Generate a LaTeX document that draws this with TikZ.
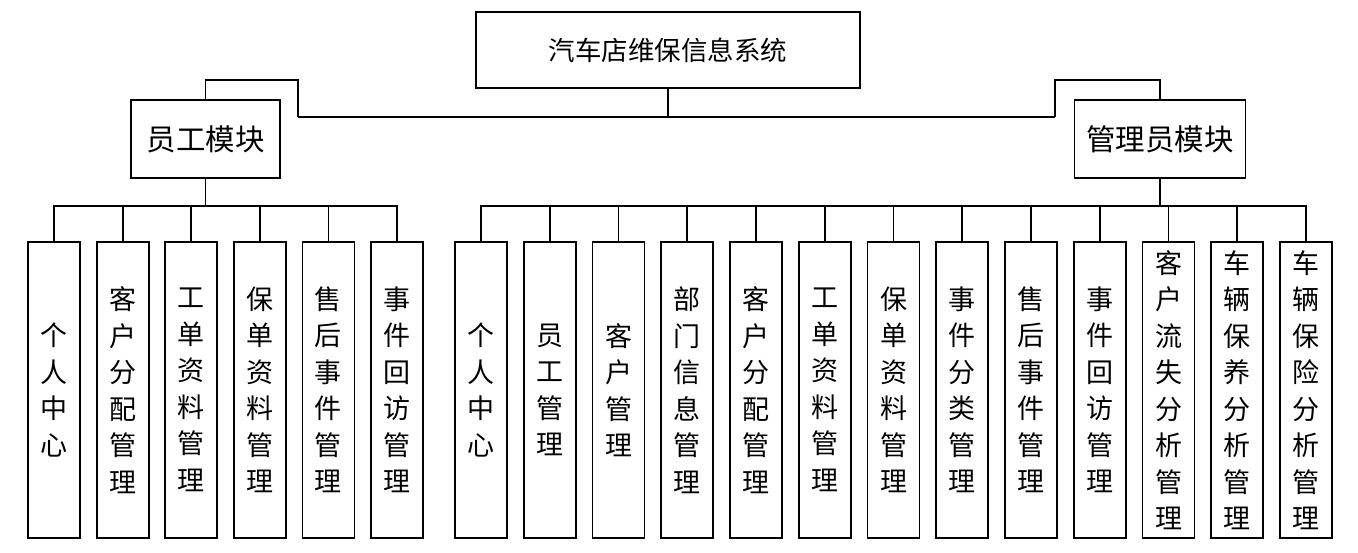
\documentclass[tikz,border=0pt]{standalone}
\usepackage{fontspec}
\newfontfamily\cjk{Noto Sans CJK SC}
\tikzset{
  every path/.style={line width=1.8pt},
  box/.style={draw, line width=1.8pt, inner sep=0pt, align=center},
  leaf/.style={box, minimum width=52pt, minimum height=296pt, font=\cjk\fontsize{27}{36.5}\selectfont},
  modbox/.style={box, minimum height=78pt, font=\cjk\fontsize{29.5}{32}\selectfont},
  conn/.style={draw, line width=1.8pt}
}
\begin{document}
\begin{tikzpicture}[x=1pt,y=-1pt]
\useasboundingbox (0,0) rectangle (1358,553);
% top
\node[modbox, minimum width=384pt, minimum height=76pt, font=\cjk\fontsize{26.5}{30}\selectfont] (sys) at (668,50) {汽车店维保信息系统};
\node[modbox, minimum width=149pt] (emp) at (205.5,139) {员工模块};
\node[modbox, minimum width=171pt] (adm) at (1160,139) {管理员模块};
\coordinate (mid) at (668,117);
\coordinate (kl) at (298,117);
\coordinate (kr) at (1055,117);
\coordinate (kl2) at (298,80);
\coordinate (kr2) at (1055,80);
\draw (sys.south) -- (mid);
\draw (kl) -- (kr);
\draw (kl) -- (kl2) -| (emp.north);
\draw (kr) -- (kr2) -| (adm.north);
\coordinate (bus) at (0,206);
% employee leaves
\foreach \i/\t in {0/{个\\人\\中\\心},1/{客\\户\\分\\配\\管\\理},2/{工\\单\\资\\料\\管\\理},3/{保\\单\\资\\料\\管\\理},4/{售\\后\\事\\件\\管\\理},5/{事\\件\\回\\访\\管\\理}}{
  \node[leaf] (e\i) at ({54+68.6*\i},390) {\t};
  \draw (emp.south) -- (emp.south |- bus) -| (e\i.north);
}
% admin leaves
\foreach \i/\t in {0/{个\\人\\中\\心},1/{员\\工\\管\\理},2/{客\\户\\管\\理},3/{部\\门\\信\\息\\管\\理},4/{客\\户\\分\\配\\管\\理},5/{工\\单\\资\\料\\管\\理},6/{保\\单\\资\\料\\管\\理},7/{事\\件\\分\\类\\管\\理},8/{售\\后\\事\\件\\管\\理},9/{事\\件\\回\\访\\管\\理},10/{客\\户\\流\\失\\分\\析\\管\\理},11/{车\\辆\\保\\养\\分\\析\\管\\理},12/{车\\辆\\保\\险\\分\\析\\管\\理}}{
  \node[leaf] (a\i) at ({481+68.75*\i},390) {\t};
  \draw (adm.south) -- (adm.south |- bus) -| (a\i.north);
}
\end{tikzpicture}
\end{document}
